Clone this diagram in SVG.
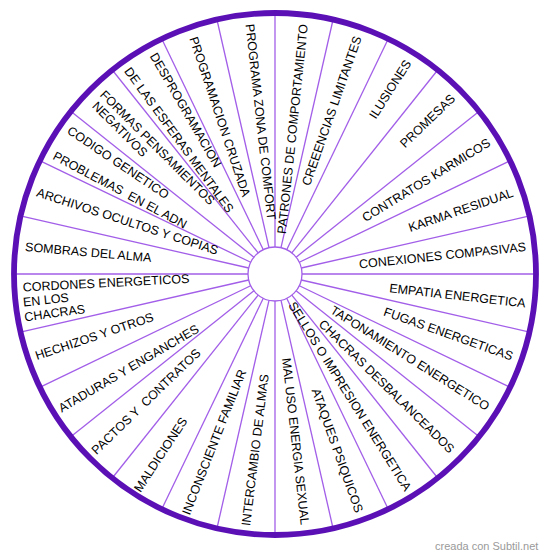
<svg xmlns="http://www.w3.org/2000/svg" width="550" height="558" viewBox="0 0 550 558">
<style>
.lbl{font-family:"Liberation Sans",Arial,sans-serif;font-size:12.5px;fill:#000;text-anchor:middle}
.lft{font-family:"Liberation Sans",Arial,sans-serif;font-size:12.5px;fill:#000;text-anchor:start}
.spoke{stroke:#a25ee8;stroke-width:1.3}
.wm{font-family:"Liberation Sans",Arial,sans-serif;font-size:11px;fill:#9a9a9a}
</style>
<rect width="550" height="558" fill="#fff"/>
<g id="wheel">
<circle cx="275" cy="274" r="261" fill="#fff" stroke="none"/>
</g>
<g id="spokes">
<line class="spoke" x1="275" y1="247" x2="275" y2="14" transform="rotate(0 275 274)"/>
<line class="spoke" x1="275" y1="247" x2="275" y2="14" transform="rotate(12.857 275 274)"/>
<line class="spoke" x1="275" y1="247" x2="275" y2="14" transform="rotate(25.714 275 274)"/>
<line class="spoke" x1="275" y1="247" x2="275" y2="14" transform="rotate(38.571 275 274)"/>
<line class="spoke" x1="275" y1="247" x2="275" y2="14" transform="rotate(51.429 275 274)"/>
<line class="spoke" x1="275" y1="247" x2="275" y2="14" transform="rotate(64.286 275 274)"/>
<line class="spoke" x1="275" y1="247" x2="275" y2="14" transform="rotate(77.143 275 274)"/>
<line class="spoke" x1="275" y1="247" x2="275" y2="14" transform="rotate(90 275 274)"/>
<line class="spoke" x1="275" y1="247" x2="275" y2="14" transform="rotate(102.857 275 274)"/>
<line class="spoke" x1="275" y1="247" x2="275" y2="14" transform="rotate(115.714 275 274)"/>
<line class="spoke" x1="275" y1="247" x2="275" y2="14" transform="rotate(128.571 275 274)"/>
<line class="spoke" x1="275" y1="247" x2="275" y2="14" transform="rotate(141.429 275 274)"/>
<line class="spoke" x1="275" y1="247" x2="275" y2="14" transform="rotate(154.286 275 274)"/>
<line class="spoke" x1="275" y1="247" x2="275" y2="14" transform="rotate(167.143 275 274)"/>
<line class="spoke" x1="275" y1="247" x2="275" y2="14" transform="rotate(180 275 274)"/>
<line class="spoke" x1="275" y1="247" x2="275" y2="14" transform="rotate(192.857 275 274)"/>
<line class="spoke" x1="275" y1="247" x2="275" y2="14" transform="rotate(205.714 275 274)"/>
<line class="spoke" x1="275" y1="247" x2="275" y2="14" transform="rotate(218.571 275 274)"/>
<line class="spoke" x1="275" y1="247" x2="275" y2="14" transform="rotate(231.429 275 274)"/>
<line class="spoke" x1="275" y1="247" x2="275" y2="14" transform="rotate(244.286 275 274)"/>
<line class="spoke" x1="275" y1="247" x2="275" y2="14" transform="rotate(257.143 275 274)"/>
<line class="spoke" x1="275" y1="247" x2="275" y2="14" transform="rotate(270 275 274)"/>
<line class="spoke" x1="275" y1="247" x2="275" y2="14" transform="rotate(282.857 275 274)"/>
<line class="spoke" x1="275" y1="247" x2="275" y2="14" transform="rotate(295.714 275 274)"/>
<line class="spoke" x1="275" y1="247" x2="275" y2="14" transform="rotate(308.571 275 274)"/>
<line class="spoke" x1="275" y1="247" x2="275" y2="14" transform="rotate(321.429 275 274)"/>
<line class="spoke" x1="275" y1="247" x2="275" y2="14" transform="rotate(334.286 275 274)"/>
<line class="spoke" x1="275" y1="247" x2="275" y2="14" transform="rotate(347.143 275 274)"/>
</g>
<g id="hub"><circle cx="275" cy="274" r="27" fill="#fff" stroke="#a25ee8" stroke-width="1.3"/></g>
<g id="rim"><circle cx="275" cy="274" r="261" fill="none" stroke="#5b10b6" stroke-width="5.8"/></g>
<g id="patrones"><text class="lbl" transform="translate(292.5 129) rotate(-84)" dy="0.35em">PATRONES DE COMPORTAMIENTO</text></g>
<g id="creencias"><text class="lbl" transform="translate(331.7 110.8) rotate(-70.7)" dy="0.35em">CREEENCIAS LIMITANTES</text></g>
<g id="ilusiones"><text class="lbl" transform="translate(390 89.2) rotate(-57.5)" dy="0.35em">ILUSIONES</text></g>
<g id="promesas"><text class="lbl" transform="translate(427.5 120.8) rotate(-44)" dy="0.35em">PROMESAS</text></g>
<g id="contratos-karmicos"><text class="lbl" transform="translate(426.2 180) rotate(-31.5)" dy="0.35em">CONTRATOS KARMICOS</text></g>
<g id="karma-residual"><text class="lbl" transform="translate(460.8 210) rotate(-19)" dy="0.35em">KARMA RESIDUAL</text></g>
<g id="conexiones"><text class="lbl" transform="translate(442.5 255.3) rotate(-6)" dy="0.35em">CONEXIONES COMPASIVAS</text></g>
<g id="empatia"><text class="lbl" transform="translate(457.5 295.5) rotate(6.4)" dy="0.35em">EMPATIA ENERGETICA</text></g>
<g id="fugas"><text class="lbl" transform="translate(448.3 333.8) rotate(19.5)" dy="0.35em">FUGAS ENERGETICAS</text></g>
<g id="taponamiento"><text class="lbl" transform="translate(410 358) rotate(32.2)" dy="0.35em">TAPONAMIENTO ENERGETICO</text></g>
<g id="chacras-desb"><text class="lbl" transform="translate(386.7 386.3) rotate(44.5)" dy="0.35em">CHACRAS DESBALANCEADOS</text></g>
<g id="sellos"><text class="lbl" transform="translate(350 396.3) rotate(58)" dy="0.35em">SELLOS O IMPRESION ENERGETICA</text></g>
<g id="ataques"><text class="lbl" transform="translate(337.5 450.5) rotate(70.5)" dy="0.35em">ATAQUES PSIQUICOS</text></g>
<g id="mal-uso"><text class="lbl" transform="translate(295.8 441.3) rotate(83.6)" dy="0.35em">MAL USO ENERGIA SEXUAL</text></g>
<g id="intercambio"><text class="lbl" transform="translate(255 450) rotate(-83)" dy="0.35em">INTERCAMBIO DE ALMAS</text></g>
<g id="inconsciente"><text class="lbl" transform="translate(214 442) rotate(-68.5)" dy="0.35em">INCONSCIENTE FAMILIAR</text></g>
<g id="maldiciones"><text class="lbl" transform="translate(160.5 454.6) rotate(-56.5)" dy="0.35em">MALDICIONES</text></g>
<g id="pactos"><text class="lbl" xml:space="preserve" transform="translate(146 401.4) rotate(-44)" dy="0.35em">PACTOS Y  CONTRATOS</text></g>
<g id="ataduras"><text class="lbl" transform="translate(128.6 368.3) rotate(-30.5)" dy="0.35em">ATADURAS Y ENGANCHES</text></g>
<g id="hechizos"><text class="lbl" transform="translate(94.4 336.2) rotate(-18.5)" dy="0.35em">HECHIZOS Y OTROS</text></g>
<g id="cordones">
<text class="lft" transform="translate(23 291.5) rotate(-3)">CORDONES ENERGETICOS</text>
<text class="lft" transform="translate(23.5 306.5) rotate(-6)">EN LOS</text>
<text class="lft" transform="translate(25 321.5) rotate(-8)">CHACRAS</text>
</g>
<g id="sombras"><text class="lbl" transform="translate(88.3 252.2) rotate(5)" dy="0.35em">SOMBRAS DEL ALMA</text></g>
<g id="archivos"><text class="lbl" transform="translate(127.5 221.3) rotate(18)" dy="0.35em">ARCHIVOS OCULTOS Y COPIAS</text></g>
<g id="problemas"><text class="lbl" xml:space="preserve" transform="translate(120 190) rotate(28)" dy="0.35em">PROBLEMAS  EN EL ADN</text></g>
<g id="codigo"><text class="lbl" transform="translate(118.3 162.5) rotate(34)" dy="0.35em">CODIGO GENETICO</text></g>
<g id="formas">
<text class="lbl" transform="translate(157.5 147.5) rotate(45)" dy="0.35em">FORMAS PENSAMIENTOS</text>
<text class="lbl" transform="translate(120 129.2) rotate(45)" dy="0.35em">NEGATIVOS</text>
</g>
<g id="desprogramacion">
<text class="lbl" transform="translate(185.8 110) rotate(60)" dy="0.35em">DESPROGRAMACION</text>
<text class="lbl" transform="translate(179.2 140) rotate(54)" dy="0.35em">DE LAS ESFERAS MENTALES</text>
</g>
<g id="programacion-cruzada"><text class="lbl" transform="translate(220 116.7) rotate(71.5)" dy="0.35em">PROGRAMACION CRUZADA</text></g>
<g id="programa-zona"><text class="lbl" transform="translate(260.8 122) rotate(83.6)" dy="0.35em">PROGRAMA ZONA DE COMFORT</text></g>
<g id="watermark"><text class="wm" x="435" y="550">creada con Subtil.net</text></g>
</svg>
